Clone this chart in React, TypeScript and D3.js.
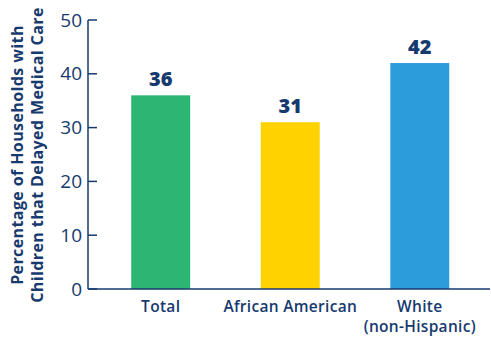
import React from "react";
import * as d3 from "d3";

const categories = ["Total", "African American", "White\n(non-Hispanic)"];
const values = [36, 31, 42];
const colors = ["#2db673", "#ffd200", "#2d9cdb"];
const yTicks = [0, 10, 20, 30, 40, 50];
const yTitle = ["Percentage of Households with", "Children that Delayed Medical Care"];

const W = 491, H = 337;
const NAVY = "#173a6e";
const FONT = "'Open Sans', sans-serif";

export default function App() {
  const y = d3.scaleLinear().domain([0, 50]).range([289, 20]);
  const x = d3.scaleBand<string>().domain(categories).range([96, 484.5]).paddingInner(0.545).paddingOuter(0.272);
  const axisX = 88;
  return (
    <svg width={W} height={H} style={{ position: "absolute", left: 0, top: 0 }}>
      <rect width={W} height={H} fill="#fff" />
      {values.map((v, i) => (
        <g key={i}>
          <rect x={x(categories[i])} y={y(v)} width={x.bandwidth()} height={y(0) - y(v)} fill={colors[i]} />
          <text x={x(categories[i])! + x.bandwidth() / 2} y={y(v) - 9} textAnchor="middle" fontFamily={FONT} fontWeight={800} fontSize={20} fill={NAVY}>{v}</text>
        </g>
      ))}
      <line x1={axisX} x2={axisX} y1={y(50)} y2={y(0)} stroke={NAVY} strokeWidth={1.5} />
      <line x1={axisX} x2={490} y1={y(0)} y2={y(0)} stroke={NAVY} strokeWidth={1.5} />
      {yTicks.map((t) => (
        <g key={t}>
          <line x1={axisX} x2={axisX + 9} y1={y(t)} y2={y(t)} stroke={NAVY} strokeWidth={1.5} />
          <text x={82} y={y(t) + 6.5} textAnchor="end" fontFamily={FONT} fontSize={19} fill={NAVY}>{t}</text>
        </g>
      ))}
      {categories.map((c, i) => (
        <text key={c} x={x(c)! + x.bandwidth() / 2} y={312} textAnchor="middle" fontFamily={FONT} fontWeight={600} fontSize={15.5} letterSpacing={0.3} fill={NAVY}>
          {c.split("\n").map((l, j) => (
            <tspan key={j} x={x(c)! + x.bandwidth() / 2} dy={j === 0 ? 0 : 20}>{l}</tspan>
          ))}
        </text>
      ))}
      {yTitle.map((l, j) => (
        <text key={j} transform={`translate(${23 + j * 20},155) rotate(-90)`} textAnchor="middle" fontFamily={FONT} fontWeight={700} fontSize={16} letterSpacing={0.4} fill={NAVY}>{l}</text>
      ))}
    </svg>
  );
}
